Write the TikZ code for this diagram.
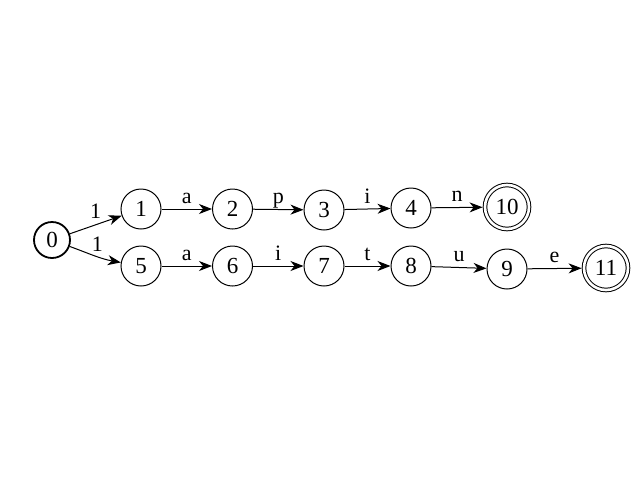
\documentclass[tikz,border=0pt]{standalone}
\usepackage{fontspec}
\setmainfont{Liberation Serif}
\usetikzlibrary{arrows.meta}
\begin{document}
\begin{tikzpicture}[x=1pt,y=1pt,
  state/.style={circle,draw,line width=1pt,minimum size=40pt,inner sep=0pt,font=\fontsize{23}{23}\selectfont},
  startst/.style={state,line width=1.8pt,minimum size=36pt},
  accst/.style={state,double,double distance=2.6pt,minimum size=44pt,outer sep=2.4pt},
  trans/.style={line width=1pt,-{Stealth[length=13pt,width=10pt,inset=4pt]}},
  lbl/.style={anchor=base,yshift=6pt,inner sep=0pt,font=\fontsize{22}{22}\selectfont}]
\useasboundingbox (0,0) rectangle (640,-480);
\node[startst] (q0) at (52,-240) {0};
\node[state] (q1) at (141,-209) {1};
\node[state] (q2) at (232.5,-209) {2};
\node[state] (q3) at (324,-210) {3};
\node[state] (q4) at (411,-208) {4};
\node[accst] (q10) at (507,-207) {10};
\node[state] (q5) at (141,-266) {5};
\node[state] (q6) at (232.5,-266) {6};
\node[state] (q7) at (324,-266) {7};
\node[state] (q8) at (411,-266) {8};
\node[state] (q9) at (507,-269) {9};
\node[accst] (q11) at (606,-268) {11};
\draw[trans] (q0) -- node[lbl,pos=0.5] {1} (q1);
\draw[trans] (q0) to[out=-20,in=170] node[lbl,pos=0.55,yshift=-1pt] {1} (q5);
\draw[trans] (q1) -- node[lbl] {a} (q2);
\draw[trans] (q2) -- node[lbl] {p} (q3);
\draw[trans] (q3) -- node[lbl] {i} (q4);
\draw[trans] (q4) -- node[lbl] {n} (q10);
\draw[trans] (q5) -- node[lbl] {a} (q6);
\draw[trans] (q6) -- node[lbl] {i} (q7);
\draw[trans] (q7) -- node[lbl] {t} (q8);
\draw[trans] (q8) -- node[lbl] {u} (q9);
\draw[trans] (q9) -- node[lbl] {e} (q11);
\end{tikzpicture}
\end{document}
